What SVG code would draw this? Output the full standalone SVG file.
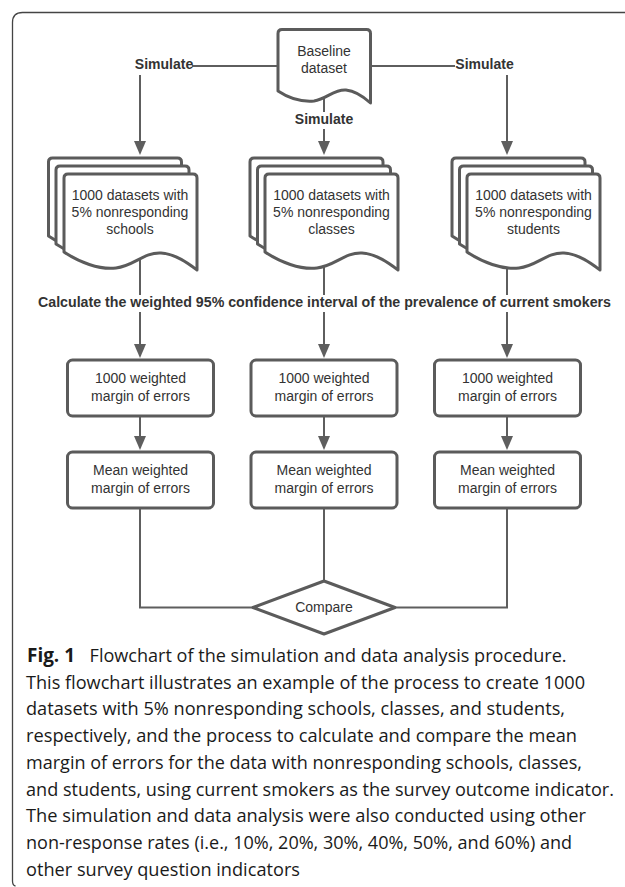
<svg xmlns="http://www.w3.org/2000/svg" xmlns:xlink="http://www.w3.org/1999/xlink" width="625" height="887" viewBox="0 0 625 887">
<style>
.shape{fill:#fff;stroke:#5b5b5b;stroke-width:3;stroke-linejoin:round}
.con{fill:none;stroke:#5e5e5e;stroke-width:2}
.lbl{font-family:"Liberation Sans",Arial,sans-serif;font-size:14px;fill:#333;text-anchor:middle}
.bold{font-weight:bold}
.cap{font-family:"Open Sans","Noto Sans",sans-serif;font-size:19px;fill:#1a1a1a}
.frame{fill:none;stroke:#444;stroke-width:1.3}
</style>
<defs>
<marker id="ah" viewBox="0 0 14 12" refX="6" refY="6" markerWidth="14" markerHeight="12" markerUnits="userSpaceOnUse" orient="auto">
<path d="M0,0 L14,6 L0,12 z" fill="#5e5e5e"/>
</marker>
<path id="doc" d="M0,78 V4 Q0,0 4,0 H129 Q133,0 133,4 V96 C125,90 112,80 97,79 C80,78 70,92 52,94 C35,96 15,88 0,78 Z"/>
</defs>
<rect width="625" height="887" fill="#fff"/>
<path class="frame" d="M626,12.5 H22.5 Q12.5,12.5 12.5,22.5 V881 Q12.5,885.5 15.5,886"/>

<g id="connectors">
<line class="con" x1="278" y1="66" x2="192" y2="66"/>
<line class="con" x1="140" y1="75" x2="140" y2="147" marker-end="url(#ah)"/>
<line class="con" x1="370" y1="66" x2="455" y2="66"/>
<line class="con" x1="507" y1="75" x2="507" y2="147" marker-end="url(#ah)"/>
<line class="con" x1="324" y1="95" x2="324" y2="112"/>
<line class="con" x1="324" y1="129" x2="324" y2="147" marker-end="url(#ah)"/>
<line class="con" x1="140" y1="240" x2="140" y2="295"/>
<line class="con" x1="324" y1="240" x2="324" y2="295"/>
<line class="con" x1="507" y1="240" x2="507" y2="295"/>
<line class="con" x1="140" y1="312" x2="140" y2="350" marker-end="url(#ah)"/>
<line class="con" x1="324" y1="312" x2="324" y2="350" marker-end="url(#ah)"/>
<line class="con" x1="507" y1="312" x2="507" y2="350" marker-end="url(#ah)"/>
<line class="con" x1="140" y1="416" x2="140" y2="442" marker-end="url(#ah)"/>
<line class="con" x1="324" y1="416" x2="324" y2="442" marker-end="url(#ah)"/>
<line class="con" x1="507" y1="416" x2="507" y2="442" marker-end="url(#ah)"/>
<path class="con" d="M140,508 V607.5 H253"/>
<path class="con" d="M507,508 V607.5 H395"/>
<line class="con" x1="324" y1="508" x2="324" y2="581"/>
<text class="lbl bold" x="164" y="69">Simulate</text>
<text class="lbl bold" x="484.5" y="69">Simulate</text>
<text class="lbl bold" x="324" y="124">Simulate</text>
<text class="lbl bold" x="324.5" y="307" textLength="573" lengthAdjust="spacingAndGlyphs">Calculate the weighted 95% confidence interval of the prevalence of current smokers</text>
</g>

<g id="baseline">
<path class="shape" d="M278,91 V33.5 Q278,29.5 282,29.5 H366.5 Q370.5,29.5 370.5,33.5 V103 C365,98 356,91 346,90 C334,89 327,99 314,101 C302,102 290,99 278,91 Z"/>
<text class="lbl" x="324" y="56">Baseline</text>
<text class="lbl" x="324" y="73">dataset</text>
</g>

<g id="sim-schools">
<use xlink:href="#doc" href="#doc" class="shape" x="48.5" y="158"/>
<use xlink:href="#doc" href="#doc" class="shape" x="56" y="166"/>
<use xlink:href="#doc" href="#doc" class="shape" x="64" y="174"/>
<text class="lbl" x="130" y="200">1000 datasets with</text>
<text class="lbl" x="130" y="217">5% nonresponding</text>
<text class="lbl" x="130" y="234">schools</text>
</g>

<g id="sim-classes">
<use xlink:href="#doc" href="#doc" class="shape" x="250" y="158"/>
<use xlink:href="#doc" href="#doc" class="shape" x="257.5" y="166"/>
<use xlink:href="#doc" href="#doc" class="shape" x="265" y="174"/>
<text class="lbl" x="331.5" y="200">1000 datasets with</text>
<text class="lbl" x="331.5" y="217">5% nonresponding</text>
<text class="lbl" x="331.5" y="234">classes</text>
</g>

<g id="sim-students">
<use xlink:href="#doc" href="#doc" class="shape" x="452" y="158"/>
<use xlink:href="#doc" href="#doc" class="shape" x="459.5" y="166"/>
<use xlink:href="#doc" href="#doc" class="shape" x="467" y="174"/>
<text class="lbl" x="533.5" y="200">1000 datasets with</text>
<text class="lbl" x="533.5" y="217">5% nonresponding</text>
<text class="lbl" x="533.5" y="234">students</text>
</g>

<g id="moe-schools">
<rect class="shape" x="67.5" y="360" width="146" height="56" rx="5"/>
<text class="lbl" x="140.5" y="383">1000 weighted</text>
<text class="lbl" x="140.5" y="400.5">margin of errors</text>
</g>
<g id="moe-classes">
<rect class="shape" x="251" y="360" width="146" height="56" rx="5"/>
<text class="lbl" x="324" y="383">1000 weighted</text>
<text class="lbl" x="324" y="400.5">margin of errors</text>
</g>
<g id="moe-students">
<rect class="shape" x="434.5" y="360" width="146" height="56" rx="5"/>
<text class="lbl" x="507.5" y="383">1000 weighted</text>
<text class="lbl" x="507.5" y="400.5">margin of errors</text>
</g>

<g id="mean-schools">
<rect class="shape" x="67.5" y="452" width="146" height="56" rx="5"/>
<text class="lbl" x="140.5" y="475">Mean weighted</text>
<text class="lbl" x="140.5" y="492.5">margin of errors</text>
</g>
<g id="mean-classes">
<rect class="shape" x="251" y="452" width="146" height="56" rx="5"/>
<text class="lbl" x="324" y="475">Mean weighted</text>
<text class="lbl" x="324" y="492.5">margin of errors</text>
</g>
<g id="mean-students">
<rect class="shape" x="434.5" y="452" width="146" height="56" rx="5"/>
<text class="lbl" x="507.5" y="475">Mean weighted</text>
<text class="lbl" x="507.5" y="492.5">margin of errors</text>
</g>

<g id="compare">
<path class="shape" d="M324,581 L395,607.5 L324,634 L253,607.5 Z"/>
<text class="lbl" x="324" y="612">Compare</text>
</g>

<g id="caption">
<text class="cap" x="27" y="662" font-weight="bold" textLength="48" lengthAdjust="spacingAndGlyphs">Fig. 1</text>
<text class="cap" x="89.6" y="662" textLength="477" lengthAdjust="spacingAndGlyphs">Flowchart of the simulation and data analysis procedure.</text>
<text class="cap" x="26" y="688.7" textLength="559" lengthAdjust="spacingAndGlyphs">This flowchart illustrates an example of the process to create 1000</text>
<text class="cap" x="26" y="715.4" textLength="539" lengthAdjust="spacingAndGlyphs">datasets with 5% nonresponding schools, classes, and students,</text>
<text class="cap" x="26" y="742.1" textLength="551" lengthAdjust="spacingAndGlyphs">respectively, and the process to calculate and compare the mean</text>
<text class="cap" x="26" y="768.8" textLength="556" lengthAdjust="spacingAndGlyphs">margin of errors for the data with nonresponding schools, classes,</text>
<text class="cap" x="26" y="795.5" textLength="588" lengthAdjust="spacingAndGlyphs">and students, using current smokers as the survey outcome indicator.</text>
<text class="cap" x="26" y="822.2" textLength="560" lengthAdjust="spacingAndGlyphs">The simulation and data analysis were also conducted using other</text>
<text class="cap" x="26" y="848.9" textLength="546" lengthAdjust="spacingAndGlyphs">non-response rates (i.e., 10%, 20%, 30%, 40%, 50%, and 60%) and</text>
<text class="cap" x="26" y="875.6" textLength="274" lengthAdjust="spacingAndGlyphs">other survey question indicators</text>
</g>
</svg>
